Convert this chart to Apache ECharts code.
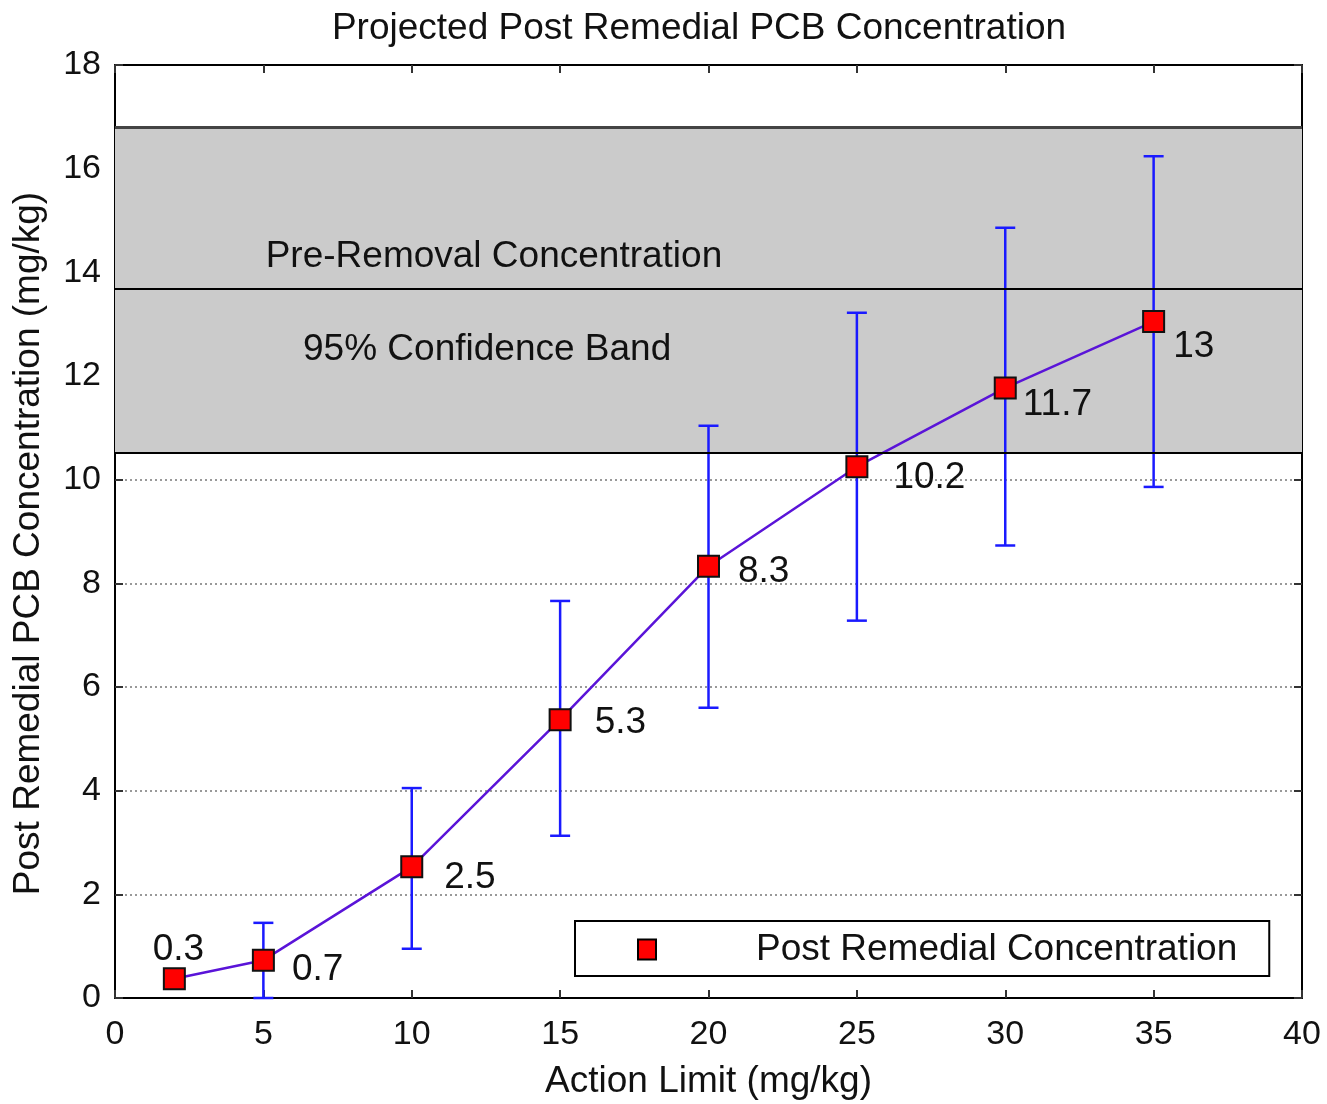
<!DOCTYPE html>
<html>
<head>
<meta charset="utf-8">
<script src="https://cdn.jsdelivr.net/npm/echarts@6/dist/echarts.min.js"></script>
<style>
  html, body { margin: 0; padding: 0; background: #fff; }
  #chart { width: 1327px; height: 1104px; }
</style>
</head>
<body>
<div id="chart"></div>
<script>
// action limits (mg/kg)
const actionLimits = [2, 5, 10, 15, 20, 25, 30, 35]
// projected post remedial concentration
const concValues = [0.37, 0.73, 2.53, 5.37, 8.33, 10.25, 11.77, 13.05]
const concLabels = ["0.3", "0.7", "2.5", "5.3", "8.3", "10.2", "11.7", "13"]
// error bar ends (null = no bar)
const errLow = [null, 0, 0.95, 3.13, 5.6, 7.28, 8.73, 9.86]
const errHigh = [null, 1.45, 4.05, 7.66, 11.04, 13.22, 14.86, 16.24]
// pre-removal 95% confidence band
const bandLow = 10.52
const bandMid = 13.69
const bandHigh = 16.8

const font = "Liberation Sans, Arial, sans-serif"
// label nudges, per point
const labelOffsets = [[4, 6], [12, 10], [16, 11], [18, 3], [13, 6], [20, 11], [1, 17], [3, 25]]

const chart = echarts.init(document.getElementById("chart"))

const errData = []
actionLimits.forEach((x, i) => {
  if (errLow[i] !== null) errData.push([x, errLow[i], errHigh[i]])
})

const lineData = actionLimits.map((x, i) => ({
  value: [x, concValues[i]],
  label: i === 0
    ? { position: "top", offset: labelOffsets[i], formatter: concLabels[i] }
    : { position: "right", offset: labelOffsets[i], formatter: concLabels[i] },
}))

const axisCommon = {
  type: "value",
  axisLine: { show: true, onZero: false, lineStyle: { color: "#000", width: 2 } },
  axisTick: { show: true, inside: true, length: 8, lineStyle: { color: "#333", width: 2 } },
}

const option = {
  animation: false,
  backgroundColor: "#fff",
  title: {
    text: "Projected Post Remedial PCB Concentration",
    left: 694,
    textAlign: "center",
    top: 5,
    textStyle: { fontFamily: font, fontSize: 37, fontWeight: "normal", color: "#111" },
  },
  grid: { left: 115, right: 25, top: 65, bottom: 106, containLabel: false, outerBoundsMode: "none" },
  legend: {
    left: 575,
    top: 921,
    orient: "horizontal",
    data: [{
      name: "Post Remedial Concentration",
      icon: "rect",
      itemStyle: { color: "#ff0000", borderColor: "#000", borderWidth: 2 },
    }],
    itemWidth: 18,
    itemHeight: 20,
    padding: [10, 32, 8, 62],
    borderColor: "#000",
    borderWidth: 2,
    backgroundColor: "#fff",
    textStyle: { fontFamily: font, fontSize: 37, color: "#111", padding: [0, 0, 0, 95] },
  },
  xAxis: [
    {
      ...axisCommon,
      min: 0, max: 40, interval: 5,
      position: "bottom",
      name: "Action Limit (mg/kg)",
      nameLocation: "middle",
      nameGap: 65,
      nameTextStyle: { fontFamily: font, fontSize: 37, color: "#111" },
      axisLabel: { fontFamily: font, fontSize: 34, color: "#111", margin: 20 },
      splitLine: { show: false },
    },
    {
      ...axisCommon,
      min: 0, max: 40, interval: 5,
      position: "top",
      axisLabel: { show: false },
      splitLine: { show: false },
    },
  ],
  yAxis: [
    {
      ...axisCommon,
      min: 0, max: 18, interval: 2,
      position: "left",
      name: "Post Remedial PCB Concentration (mg/kg)",
      nameLocation: "middle",
      nameGap: 68,
      nameTextStyle: { fontFamily: font, fontSize: 37, color: "#111", padding: [0, 24, 0, 0] },
      axisLabel: { fontFamily: font, fontSize: 34, color: "#111", margin: 14 },
      splitLine: { show: true, lineStyle: { type: [2, 3], color: "#999", width: 2 } },
    },
    {
      ...axisCommon,
      min: 0, max: 18, interval: 2,
      position: "right",
      axisLabel: { show: false },
      splitLine: { show: false },
    },
  ],
  series: [
    {
      name: "band",
      type: "line",
      data: [],
      z: 1,
      markArea: {
        silent: true,
        itemStyle: { color: "#cbcbcb", opacity: 1, borderWidth: 0 },
        data: [[{ yAxis: bandLow }, { yAxis: bandHigh }]],
      },
      markLine: {
        silent: true,
        symbol: ["none", "none"],
        label: { show: false },
        data: [
          { yAxis: bandLow, lineStyle: { color: "#000", width: 2, type: "solid" } },
          { yAxis: bandMid, lineStyle: { color: "#000", width: 2, type: "solid" } },
          { yAxis: bandHigh, lineStyle: { color: "#444", width: 3, type: "solid" } },
        ],
      },
      markPoint: {
        silent: true,
        symbolSize: 0,
        label: { show: true, fontFamily: font, fontSize: 37, color: "#111", position: "inside" },
        data: [
          { coord: [12.77, 14.3], value: "Pre-Removal Concentration", label: { formatter: "Pre-Removal Concentration" } },
          { coord: [12.54, 12.5], value: "95% Confidence Band", label: { formatter: "95% Confidence Band" } },
        ],
      },
    },
    {
      name: "errors",
      type: "custom",
      z: 3,
      data: errData,
      renderItem: (params, api) => {
        const x = api.value(0)
        const lo = api.coord([x, api.value(1)])
        const hi = api.coord([x, api.value(2)])
        const cap = 10
        const style = { stroke: "#1a1aff", lineWidth: 2.5 }
        return {
          type: "group",
          children: [
            { type: "line", shape: { x1: lo[0], y1: lo[1], x2: hi[0], y2: hi[1] }, style },
            { type: "line", shape: { x1: lo[0] - cap, y1: lo[1], x2: lo[0] + cap, y2: lo[1] }, style },
            { type: "line", shape: { x1: hi[0] - cap, y1: hi[1], x2: hi[0] + cap, y2: hi[1] }, style },
          ],
        }
      },
    },
    {
      name: "Post Remedial Concentration",
      type: "line",
      z: 4,
      data: lineData,
      symbol: "rect",
      symbolSize: 21,
      lineStyle: { color: "#5a14d8", width: 2.5 },
      itemStyle: { color: "#ff0000", borderColor: "#111", borderWidth: 2 },
      label: {
        show: true,
        fontFamily: font,
        fontSize: 37,
        color: "#111",
      },
    },
  ],
}

chart.setOption(option)
</script>
</body>
</html>
